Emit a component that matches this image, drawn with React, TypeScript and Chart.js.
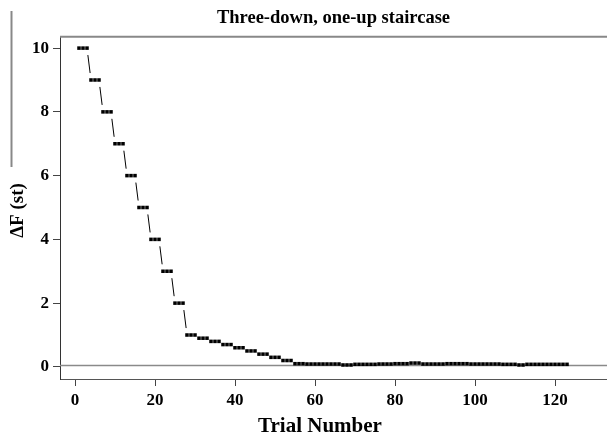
import React, { useEffect, useRef } from "react";
import { Chart, registerables } from "chart.js";

Chart.register(...registerables);

const TITLE = "Three-down, one-up staircase";
const X_TITLE = "Trial Number";
const Y_TITLE = "ΔF (st)";
const X_TICKS = [0, 20, 40, 60, 80, 100, 120];
const Y_TICKS = [0, 2, 4, 6, 8, 10];
const X_RANGE = [-3.75, 133];
const Y_RANGE = [-0.38, 10.38];
const THRESHOLD = 0.04;

// ΔF (semitones) on each trial, trials 1..123
const DELTA_F = [
  10, 10, 10, 9, 9, 9, 8, 8, 8, 7, 7, 7, 6, 6, 6, 5, 5, 5, 4, 4, 4, 3, 3, 3, 2, 2, 2, 1, 1, 1,
  0.9, 0.9, 0.9, 0.8, 0.8, 0.8, 0.7, 0.7, 0.7, 0.6, 0.6, 0.6, 0.5, 0.5, 0.5, 0.4, 0.4, 0.4,
  0.3, 0.3, 0.3, 0.2, 0.2, 0.2, 0.1, 0.1, 0.1,
  0.09, 0.09, 0.09, 0.09, 0.09, 0.09, 0.09, 0.09, 0.09,
  0.06, 0.06, 0.06,
  0.08, 0.08, 0.08, 0.08, 0.08, 0.08,
  0.09, 0.09, 0.09, 0.09,
  0.1, 0.1, 0.1, 0.1,
  0.12, 0.12, 0.12,
  0.09, 0.09, 0.09, 0.09, 0.09, 0.09,
  0.1, 0.1, 0.1, 0.1, 0.1, 0.1,
  0.09, 0.09, 0.09, 0.09, 0.09, 0.09, 0.09, 0.09,
  0.08, 0.08, 0.08, 0.08,
  0.06, 0.06,
  0.08, 0.08, 0.08, 0.08, 0.08, 0.08, 0.08, 0.08, 0.08, 0.08, 0.08,
];

const FONT = "'Liberation Serif', 'Times New Roman', serif";
const GAP = 7;

const decor = {
  id: "decor",
  beforeDatasetsDraw(chart: any) {
    const { ctx, chartArea, scales } = chart;
    const { left, right } = chartArea;
    ctx.save();
    // reference (threshold) line
    const ty = scales.y.getPixelForValue(THRESHOLD);
    ctx.strokeStyle = "#8a8a8a";
    ctx.lineWidth = 1.5;
    ctx.beginPath();
    ctx.moveTo(left, ty);
    ctx.lineTo(right, ty);
    ctx.stroke();
    // connecting segments with gaps around points
    const pts = chart.getDatasetMeta(0).data;
    ctx.strokeStyle = "#000";
    ctx.lineWidth = 1;
    ctx.beginPath();
    for (let i = 1; i < pts.length; i++) {
      const a = pts[i - 1];
      const b = pts[i];
      const dx = b.x - a.x;
      const dy = b.y - a.y;
      const len = Math.hypot(dx, dy);
      if (len > 2 * GAP) {
        const ux = dx / len;
        const uy = dy / len;
        ctx.moveTo(a.x + ux * GAP, a.y + uy * GAP);
        ctx.lineTo(b.x - ux * GAP, b.y - uy * GAP);
      }
    }
    ctx.stroke();
    ctx.restore();
  },
  afterDraw(chart: any) {
    const { ctx, chartArea, width } = chart;
    const { left, top, bottom } = chartArea;
    ctx.save();
    ctx.strokeStyle = "#888";
    ctx.lineWidth = 2;
    ctx.beginPath();
    ctx.moveTo(left, top + 0.7);
    ctx.lineTo(width, top + 0.7);
    ctx.stroke();
    ctx.beginPath();
    ctx.moveTo(11.5, 11);
    ctx.lineTo(11.5, 167);
    ctx.stroke();
    ctx.fillStyle = "#000";
    ctx.textAlign = "center";
    ctx.textBaseline = "middle";
    ctx.font = `bold 18.5px ${FONT}`;
    ctx.fillText(TITLE, (left + width) / 2, 18);
    ctx.font = `bold 21px ${FONT}`;
    ctx.fillText(X_TITLE, 320, 427);
    ctx.translate(18, (top + bottom) / 2 + 3);
    ctx.rotate(-Math.PI / 2);
    ctx.font = `bold 19px ${FONT}`;
    ctx.fillText(Y_TITLE, 0, 0);
    ctx.restore();
  },
};

export default function App() {
  const ref = useRef<HTMLCanvasElement>(null);
  useEffect(() => {
    document.body.style.margin = "0";
    const chart = new Chart(ref.current as HTMLCanvasElement, {
      type: "scatter",
      data: {
        datasets: [
          {
            data: DELTA_F.map((v, i) => ({ x: i + 1, y: v })),
            showLine: false,
            pointStyle: "rect",
            pointRadius: 2.5,
            pointBorderWidth: 0,
            pointBackgroundColor: "#000",
            pointBorderColor: "#000",
          },
        ],
      },
      options: {
        responsive: false,
        animation: false,
        layout: { autoPadding: false, padding: { top: 36, right: 0, left: 0, bottom: 0 } },
        plugins: {
          legend: { display: false },
          title: { display: false },
          tooltip: { enabled: false },
        },
        scales: {
          x: {
            type: "linear",
            min: X_RANGE[0],
            max: X_RANGE[1],
            afterBuildTicks: (s: any) => {
              s.ticks = X_TICKS.map((v) => ({ value: v }));
            },
            afterFit: (s: any) => {
              s.height = 58;
            },
            border: { display: true, color: "#555", width: 1 },
            grid: {
              drawOnChartArea: false,
              drawTicks: true,
              tickLength: 7,
              tickColor: "#444",
            },
            ticks: {
              color: "#000",
              padding: 4,
              maxRotation: 0,
              autoSkip: false,
              font: { family: FONT, size: 17, weight: "bold" },
            },
            title: { display: false },
          },
          y: {
            type: "linear",
            min: Y_RANGE[0],
            max: Y_RANGE[1],
            afterBuildTicks: (s: any) => {
              s.ticks = Y_TICKS.map((v) => ({ value: v }));
            },
            afterFit: (s: any) => {
              s.width = 60;
            },
            border: { display: true, color: "#333", width: 1 },
            grid: {
              drawOnChartArea: false,
              drawTicks: true,
              tickLength: 7,
              tickColor: "#444",
            },
            ticks: {
              color: "#000",
              padding: 4,
              autoSkip: false,
              font: { family: FONT, size: 17, weight: "bold" },
            },
            title: { display: false },
          },
        },
      },
      plugins: [decor],
    } as any);
    return () => chart.destroy();
  }, []);
  return (
    <div style={{ width: 607, height: 437 }}>
      <canvas ref={ref} width={607} height={437} style={{ display: "block" }} />
    </div>
  );
}
